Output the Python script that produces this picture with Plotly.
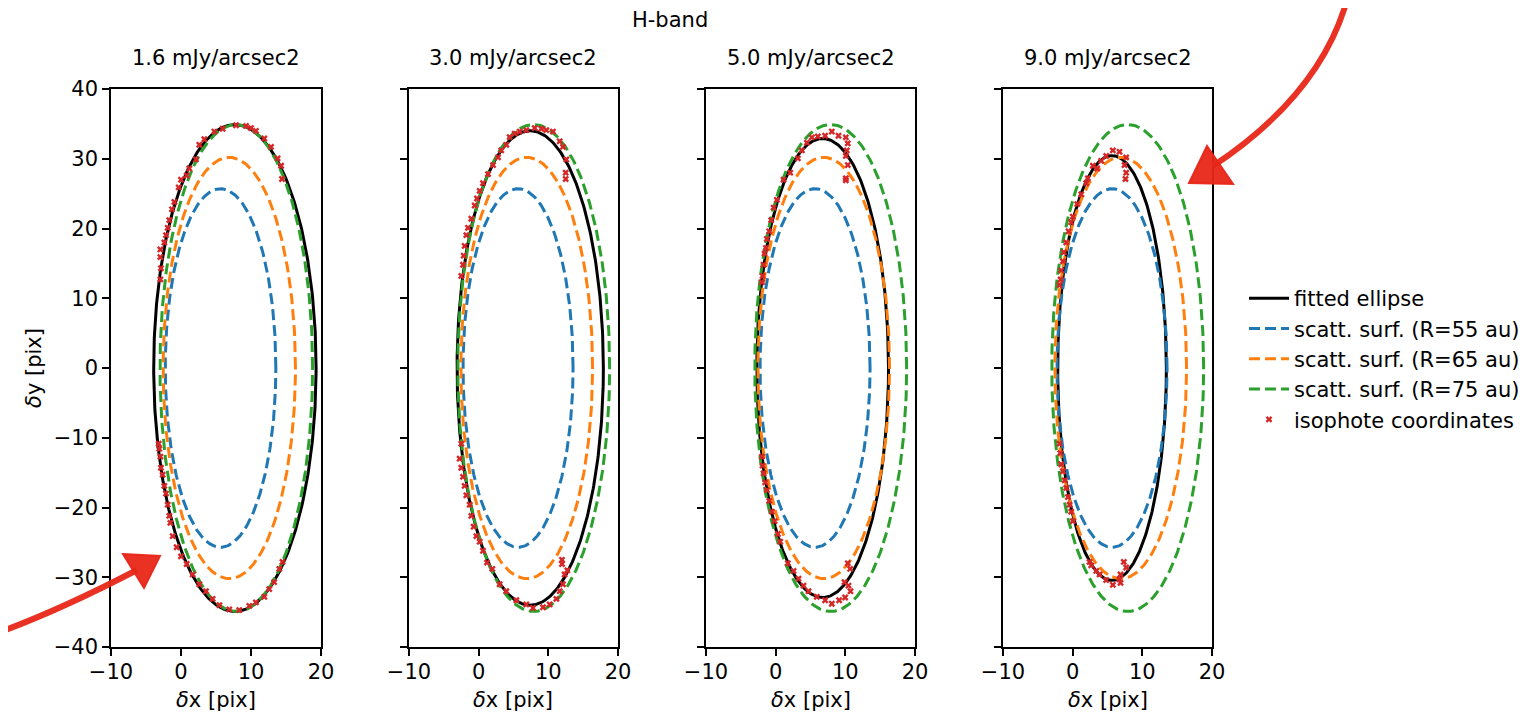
import numpy as np
import plotly.graph_objects as go

W, H = 1531, 712
OFF = 8  # page body margin: the figure is drawn 8 px right/down of the window corner

# ---------------- data ----------------
panel_titles = ["1.6 mJy/arcsec2", "3.0 mJy/arcsec2", "5.0 mJy/arcsec2", "9.0 mJy/arcsec2"]

# fitted ellipse per panel (centre x, centre y, semi-axis x, semi-axis y)
fit_cx = [7.7, 7.4, 6.75, 5.65]
fit_cy = [0.0, 0.0, 0.0, 0.0]
fit_a = [11.6, 10.5, 9.45, 7.8]
fit_b = [34.9, 34.0, 32.9, 30.45]

# scattering surfaces (same in every panel)
surf_R = [55, 65, 75]
surf_cx = [5.65, 6.9, 7.9]
surf_a = [7.9, 9.45, 10.9]
surf_b = [25.7, 30.2, 34.9]
surf_colors = ["#1f77b4", "#ff7f0e", "#2ca02c"]

# isophote coordinates
iso1_x = [2.62, 3.33, 4.76, 5.95, 7.86, 9.29, 10.0, 10.7, 11.9, 12.86, 13.8, 14.3, 14.43,
          2.14, 1.19, 0.81, 0.0, -0.33, -0.95, -1.29, -1.67, -1.9, -2.14, -2.38, -2.95, -2.95, -2.86, -2.95,
          -3.19, -3.1, -2.95, -2.86, -2.62, -2.38, -2.14, -1.9, -1.67, -1.52, -1.19, -0.62, 0.0, 0.81,
          1.67, 2.62, 3.57, 4.52, 5.48, 6.9, 8.33, 9.76, 10.7, 11.9, 12.6, 13.3, 14.05, 14.5]
iso1_y = [32.0, 32.8, 33.9, 34.3, 34.8, 34.7, 34.4, 34.0, 32.9, 31.7, 30.05, 29.0, 27.1,
          29.9, 28.6, 27.6, 27.0, 25.9, 23.8, 22.75, 21.2, 20.1, 19.05, 18.0, 17.0, 15.9, 14.3, 12.7,
          -10.85, -11.6, -12.7, -14.3, -15.3, -16.9, -18.0, -19.6, -21.2, -22.2, -24.1, -25.7, -27.0, -28.1,
          -29.6, -31.0, -32.0, -33.1, -34.0, -34.6, -34.7, -34.1, -33.6, -32.8, -31.7, -30.7, -28.8, -27.8]

iso2_x = [4.45, 5.17, 5.89, 6.84, 8.04, 9.0, 9.71, 10.67, 11.63, 12.1, 12.58, 12.49, 12.49,
          3.97, 3.25, 2.78, 2.06, 1.34, 0.62, 0.14, -0.24, -0.57, -1.05, -1.53, -1.77, -2.01, -2.15, -2.25, -2.49,
          -2.49, -2.73, -2.49, -2.25, -2.01, -1.77, -1.29, -1.05, -0.72, -0.33, 0.14, 0.62, 1.2, 1.96,
          3.01, 3.97, 5.41, 6.84, 7.8, 9.23, 10.19, 11.15, 11.63, 12.1, 12.34, 12.73, 11.96, 11.96]
iso2_y = [33.1, 33.6, 33.9, 34.1, 34.4, 34.3, 34.1, 33.9, 32.5, 31.7, 29.9, 28.0, 27.1,
          32.0, 31.2, 30.2, 29.1, 27.8, 26.5, 25.4, 24.3, 23.3, 21.4, 20.1, 19.05, 17.5, 16.1, 14.8, 13.2,
          -10.85, -13.0, -14.3, -15.6, -16.9, -18.25, -19.6, -21.2, -22.75, -24.1, -24.9, -26.2, -27.9, -28.8,
          -31.0, -32.0, -33.3, -33.9, -34.4, -34.3, -33.9, -33.1, -32.0, -31.0, -29.6, -29.0, -27.5, -28.1]

iso3_x = [5.19, 6.05, 7.1, 8.06, 9.02, 10.07, 10.35, 10.21, 10.07, 10.35, 10.07, 10.07,
          4.48, 3.76, 3.19, 2.09, 1.13, 0.18, -0.3, -0.64, -0.92, -1.26, -1.4, -1.59, -1.73, -1.88, -1.97,
          -1.97, -1.88, -1.73, -1.5, -1.26, -0.92, -0.54, -0.16, 0.32, 0.65, 1.75, 2.57, 3.28, 4.0,
          4.72, 5.91, 7.1, 8.06, 9.11, 9.97, 10.74, 10.45, 10.69, 10.35, 9.88]
iso3_y = [33.07, 33.2, 33.3, 33.9, 33.3, 33.07, 32.2, 31.2, 30.4, 29.1, 27.2, 26.9,
          32.3, 31.2, 30.05, 28.0, 27.0, 24.1, 23.0, 21.2, 19.6, 18.5, 17.2, 16.4, 14.8, 13.2, 12.3,
          -12.7, -14.0, -15.1, -16.4, -17.5, -19.05, -20.6, -21.95, -23.8, -24.9, -28.0, -29.1, -30.2, -31.2,
          -32.0, -32.8, -33.3, -33.8, -33.3, -32.9, -32.0, -31.2, -28.8, -28.0, -30.7]

iso4_x = [4.09, 4.81, 5.77, 6.72, 7.68, 7.44, 7.68, 7.58, 3.52, 2.9,
          2.18, 1.94, 1.23, 0.65, 0.03, -0.21, -0.59, -0.92, -1.26, -1.4, -1.64, -1.73, -1.88,
          -1.88, -1.78, -1.64, -1.4, -1.16, -0.92, -0.68, -0.44, -0.21, 0.03,
          2.42, 2.66, 3.38, 3.86, 4.81, 5.77, 6.72, 6.87, 7.68, 7.34, 6.87]
iso4_y = [29.7, 30.4, 31.2, 31.0, 30.2, 29.1, 28.0, 27.1, 28.6, 29.0,
          27.2, 26.5, 24.9, 23.5, 21.7, 20.9, 19.6, 18.0, 16.6, 15.3, 14.0, 12.7, 11.9,
          -10.85, -12.2, -13.8, -14.8, -16.1, -17.2, -18.5, -19.6, -20.6, -21.95,
          -27.8, -28.3, -29.1, -29.6, -30.4, -31.1, -30.3, -29.6, -28.6, -27.8, -30.8]

iso_x = [iso1_x, iso2_x, iso3_x, iso4_x]
iso_y = [iso1_y, iso2_y, iso3_y, iso4_y]

x_range = [-10, 20]
y_range = [-40, 40]
x_ticks = [-10, 0, 10, 20]
y_ticks = [-40, -30, -20, -10, 0, 10, 20, 30, 40]

# ---------------- layout helpers (screen pixel targets) ----------------
panel_px = [(111, 321), (409, 618), (706, 915), (1003, 1212)]
top_px, bot_px = 89, 647


def px(x):
    return (x - OFF) / W


def py(y):
    return 1 - (y - OFF) / H


FONT = "DejaVu Sans, Verdana, sans-serif"
FS = 21

theta = np.linspace(0, 2 * np.pi, 400)


def ellipse(cx, cy, a, b):
    return cx + a * np.cos(theta), cy + b * np.sin(theta)


fig = go.Figure()

for i in range(4):
    xa = "x" if i == 0 else f"x{i+1}"
    ya = "y" if i == 0 else f"y{i+1}"
    ex, ey = ellipse(fit_cx[i], fit_cy[i], fit_a[i], fit_b[i])
    fig.add_trace(go.Scatter(x=ex, y=ey, mode="lines", xaxis=xa, yaxis=ya,
                             line=dict(color="black", width=3),
                             name="fitted ellipse", legendgroup="fit", showlegend=(i == 0)))
    for k in range(3):
        sx, sy = ellipse(surf_cx[k], 0.0, surf_a[k], surf_b[k])
        fig.add_trace(go.Scatter(x=sx, y=sy, mode="lines", xaxis=xa, yaxis=ya,
                                 line=dict(color=surf_colors[k], width=3, dash="11px,5px"),
                                 name=f"scatt. surf. (R={surf_R[k]} au)", legendgroup=f"s{k}",
                                 showlegend=(i == 0)))
    fig.add_trace(go.Scatter(x=iso_x[i], y=iso_y[i], mode="markers", xaxis=xa, yaxis=ya,
                             marker=dict(symbol="x", size=6, color="#d62728", line=dict(width=0)),
                             name="isophote coordinates", legendgroup="iso", showlegend=(i == 0)))

axis_common = dict(showline=True, mirror=True, linecolor="black", linewidth=1.6,
                   ticks="outside", ticklen=7, tickwidth=1.6, tickcolor="black",
                   showgrid=False, zeroline=False, automargin=False,
                   tickfont=dict(family=FONT, size=FS, color="black"))

layout_axes = {}
for i in range(4):
    xname = "xaxis" if i == 0 else f"xaxis{i+1}"
    yname = "yaxis" if i == 0 else f"yaxis{i+1}"
    xa = "x" if i == 0 else f"x{i+1}"
    ya = "y" if i == 0 else f"y{i+1}"
    x0, x1 = panel_px[i]
    layout_axes[xname] = dict(axis_common, domain=[px(x0), px(x1)], range=x_range,
                              tickvals=x_ticks, anchor=ya, ticklabelstandoff=-2)
    layout_axes[yname] = dict(axis_common, domain=[py(bot_px), py(top_px)], range=y_range,
                              tickvals=y_ticks, anchor=xa, showticklabels=(i == 0))
    if i == 0:
        layout_axes[yname]["title"] = dict(text="<i>δ</i>y [pix]",
                                           font=dict(family=FONT, size=FS, color="black"),
                                           standoff=6)

annotations = []
for i in range(4):
    x0, x1 = panel_px[i]
    annotations.append(dict(text=panel_titles[i], x=px((x0 + x1) / 2), y=py(58),
                            xref="paper", yref="paper", showarrow=False,
                            xanchor="center", yanchor="middle",
                            font=dict(family=FONT, size=FS, color="black")))
    annotations.append(dict(text="<i>δ</i>x [pix]", x=px((x0 + x1) / 2), y=py(700),
                            xref="paper", yref="paper", showarrow=False,
                            xanchor="center", yanchor="middle",
                            font=dict(family=FONT, size=FS, color="black")))
annotations.append(dict(text="H-band", x=px(670), y=py(20), xref="paper", yref="paper",
                        showarrow=False, xanchor="center", yanchor="middle",
                        font=dict(family=FONT, size=FS, color="black")))

# hand-drawn red arrows
RED = "rgba(232,38,24,0.95)"


def pt(x, y):
    return f"{px(x):.5f},{py(y):.5f}"


shapes = [
    dict(type="path", xref="paper", yref="paper", layer="above",
         path=f"M{pt(1347, 0)} Q{pt(1320, 95)} {pt(1213, 166)}",
         line=dict(color=RED, width=6)),
    dict(type="path", xref="paper", yref="paper", layer="above",
         path=f"M{pt(1207, 146)} L{pt(1189, 183)} L{pt(1233, 184)} Z",
         line=dict(color=RED, width=2), fillcolor=RED),
    dict(type="path", xref="paper", yref="paper", layer="above",
         path=f"M{pt(0, 632)} Q{pt(60, 610)} {pt(137, 570)}",
         line=dict(color=RED, width=6)),
    dict(type="path", xref="paper", yref="paper", layer="above",
         path=f"M{pt(123, 554)} L{pt(160, 556)} L{pt(144, 588)} Z",
         line=dict(color=RED, width=2), fillcolor=RED),
]

fig.update_layout(
    width=W, height=H,
    margin=dict(l=0, r=0, t=0, b=0, autoexpand=False),
    paper_bgcolor="white", plot_bgcolor="white",
    font=dict(family=FONT, size=FS, color="black"),
    showlegend=True,
    legend=dict(x=px(1244), y=py(278), xanchor="left", yanchor="top",
                bgcolor="rgba(0,0,0,0)", borderwidth=0,
                font=dict(family=FONT, size=FS, color="black"),
                tracegroupgap=0, itemwidth=40),
    annotations=annotations,
    shapes=shapes,
    **layout_axes,
)

fig.write_html("out.html")
